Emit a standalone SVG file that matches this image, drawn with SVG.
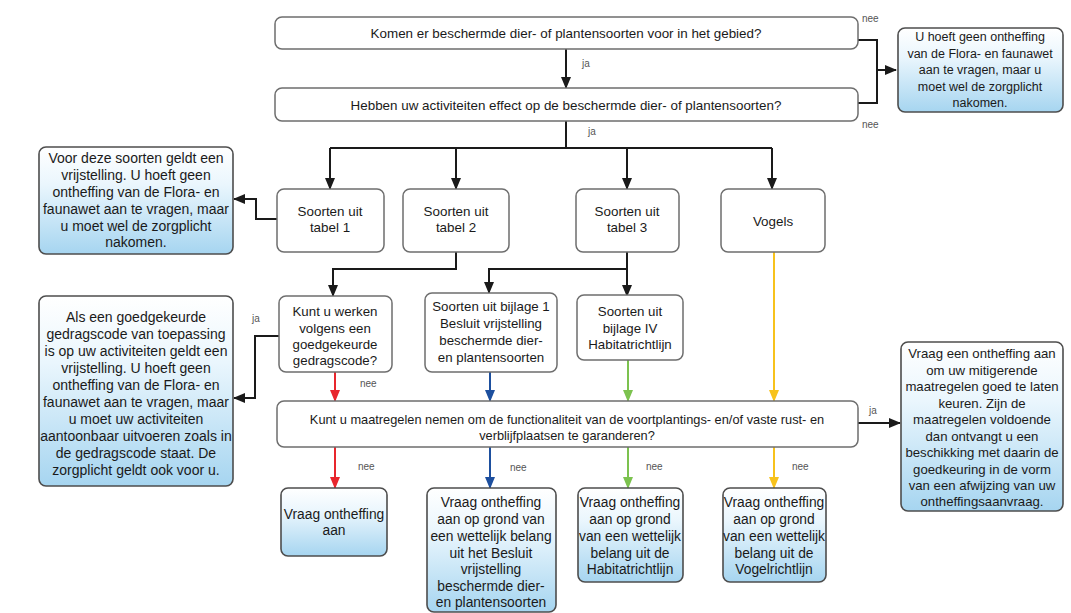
<svg xmlns="http://www.w3.org/2000/svg" width="1071" height="613" viewBox="0 0 1071 613">
<defs>
<style>
text{font-family:"Liberation Sans",Arial,sans-serif;font-size:12.5px;fill:#1a1a1a;text-anchor:middle}
.s134 text{font-size:13.4px}
.s133 text{font-size:13.3px}
.s128 text{font-size:12.8px}
.s132 text{font-size:13.2px}
.s14 text{font-size:14px}
.s138 text{font-size:13.8px}
.q{fill:#fff;stroke:#6e6e6e;stroke-width:1.5}
.b{fill:url(#bg);stroke:#4d4d4d;stroke-width:1.6}
.c{fill:none;stroke:#1a1a1a;stroke-width:2}
#connectors text.lbl{font-size:10px;fill:#555;text-anchor:start}
.red{fill:none;stroke:#e8262d;stroke-width:2}
.blu{fill:none;stroke:#1d4f9e;stroke-width:2}
.grn{fill:none;stroke:#7cc24f;stroke-width:2}
.yel{fill:none;stroke:#f7c21c;stroke-width:2}
</style>
<linearGradient id="bg" x1="0" y1="0" x2="0" y2="1">
<stop offset="0" stop-color="#ffffff"/>
<stop offset="0.35" stop-color="#eaf6fd"/>
<stop offset="1" stop-color="#a6d5f0"/>
</linearGradient>
<marker id="ak" markerUnits="userSpaceOnUse" markerWidth="12" markerHeight="10" refX="11" refY="5" orient="auto"><path d="M0,0 L12,5 L0,10 z" fill="#1a1a1a"/></marker>
<marker id="ar" markerUnits="userSpaceOnUse" markerWidth="12" markerHeight="10" refX="11" refY="5" orient="auto"><path d="M0,0 L12,5 L0,10 z" fill="#e8262d"/></marker>
<marker id="ab" markerUnits="userSpaceOnUse" markerWidth="12" markerHeight="10" refX="11" refY="5" orient="auto"><path d="M0,0 L12,5 L0,10 z" fill="#1d4f9e"/></marker>
<marker id="ag" markerUnits="userSpaceOnUse" markerWidth="12" markerHeight="10" refX="11" refY="5" orient="auto"><path d="M0,0 L12,5 L0,10 z" fill="#7cc24f"/></marker>
<marker id="ay" markerUnits="userSpaceOnUse" markerWidth="12" markerHeight="10" refX="11" refY="5" orient="auto"><path d="M0,0 L12,5 L0,10 z" fill="#f7c21c"/></marker>
</defs>
<rect width="1071" height="613" fill="#fff"/>

<g id="connectors">
<path class="c" d="M566,49 V88" marker-end="url(#ak)"/>
<path class="c" d="M858,40 H877 V103 H858"/>
<path class="c" d="M877,70 H896" marker-end="url(#ak)"/>
<path class="c" d="M566,121 V148"/>
<path class="c" d="M330,148 H772"/>
<path class="c" d="M330,148 V189" marker-end="url(#ak)"/>
<path class="c" d="M456,148 V189" marker-end="url(#ak)"/>
<path class="c" d="M627,148 V189" marker-end="url(#ak)"/>
<path class="c" d="M772,148 V189" marker-end="url(#ak)"/>
<path class="c" d="M277,219 H256 V199 H234" marker-end="url(#ak)"/>
<path class="c" d="M456,252 V269 H333 V296" marker-end="url(#ak)"/>
<path class="c" d="M627,252 V296" marker-end="url(#ak)"/>
<path class="c" d="M627,269 H489 V293" marker-end="url(#ak)"/>
<path class="c" d="M279,336 H255 V398 H234" marker-end="url(#ak)"/>
<path class="red" d="M335,372 V401" marker-end="url(#ar)"/>
<path class="blu" d="M490,372 V401" marker-end="url(#ab)"/>
<path class="grn" d="M628,360 V401" marker-end="url(#ag)"/>
<path class="yel" d="M774,252 V401" marker-end="url(#ay)"/>
<path class="c" d="M858,423 H900" marker-end="url(#ak)"/>
<path class="red" d="M335,447 V488" marker-end="url(#ar)"/>
<path class="blu" d="M490,447 V488" marker-end="url(#ab)"/>
<path class="grn" d="M628,447 V488" marker-end="url(#ag)"/>
<path class="yel" d="M774,447 V488" marker-end="url(#ay)"/>
<text class="lbl" x="582" y="67">ja</text>
<text class="lbl" x="588" y="135">ja</text>
<text class="lbl" x="862" y="22">nee</text>
<text class="lbl" x="862" y="128">nee</text>
<text class="lbl" x="252" y="322">ja</text>
<text class="lbl" x="869" y="414">ja</text>
<text class="lbl" x="360" y="387">nee</text>
<text class="lbl" x="358" y="470">nee</text>
<text class="lbl" x="510" y="471">nee</text>
<text class="lbl" x="646" y="470">nee</text>
<text class="lbl" x="792" y="470">nee</text>
</g>

<g id="q1" class="s134"><rect class="q" x="275" y="17" width="583" height="32" rx="7"/><text x="566" y="37.5">Komen er beschermde dier- of plantensoorten voor in het gebied?</text></g>
<g id="q2" class="s134"><rect class="q" x="275" y="88" width="583" height="33" rx="7"/><text x="566" y="109.5">Hebben uw activiteiten effect op de beschermde dier- of plantensoorten?</text></g>
<g id="r1"><rect class="b" x="898" y="28" width="165" height="84" rx="7"/>
<text x="980" y="41">U hoeft geen ontheffing</text><text x="980" y="57.5">van de Flora- en faunawet</text><text x="980" y="74">aan te vragen, maar u</text><text x="980" y="90.5">moet wel de zorgplicht</text><text x="980" y="107">nakomen.</text></g>

<g id="t1" class="s134"><rect class="q" x="277" y="189" width="107" height="63" rx="7"/><text x="330" y="216">Soorten uit</text><text x="330" y="232">tabel 1</text></g>
<g id="t2" class="s134"><rect class="q" x="403" y="189" width="106" height="63" rx="7"/><text x="456" y="216">Soorten uit</text><text x="456" y="232">tabel 2</text></g>
<g id="t3" class="s134"><rect class="q" x="576" y="189" width="103" height="63" rx="7"/><text x="627" y="216">Soorten uit</text><text x="627" y="232">tabel 3</text></g>
<g id="t4" class="s134"><rect class="q" x="721" y="189" width="104" height="63" rx="7"/><text x="773" y="226">Vogels</text></g>

<g id="l1" class="s14"><rect class="b" x="39" y="147" width="194" height="107" rx="7"/>
<text x="136" y="163">Voor deze soorten geldt een</text><text x="136" y="180">vrijstelling. U hoeft geen</text><text x="136" y="197">ontheffing van de Flora- en</text><text x="136" y="214">faunawet aan te vragen, maar</text><text x="136" y="231">u moet wel de zorgplicht</text><text x="136" y="247">nakomen.</text></g>

<g id="k1" class="s133"><rect class="q" x="279" y="296" width="113" height="76" rx="7"/>
<text x="335" y="316">Kunt u werken</text><text x="335" y="332.5">volgens een</text><text x="335" y="349">goedgekeurde</text><text x="335" y="365">gedragscode?</text></g>
<g id="k2" class="s133"><rect class="q" x="425" y="293" width="132" height="79" rx="7"/>
<text x="491" y="311">Soorten uit bijlage 1</text><text x="491" y="328">Besluit vrijstelling</text><text x="491" y="345">beschermde dier-</text><text x="491" y="362">en plantensoorten</text></g>
<g id="k3" class="s133"><rect class="q" x="577" y="295" width="106" height="65" rx="7"/>
<text x="630" y="316">Soorten uit</text><text x="630" y="332.5">bijlage IV</text><text x="630" y="349">Habitatrichtlijn</text></g>

<g id="l2" class="s14"><rect class="b" x="39" y="296" width="194" height="190" rx="7"/>
<text x="136" y="322">Als een goedgekeurde</text><text x="136" y="339">gedragscode van toepassing</text><text x="136" y="356">is op uw activiteiten geldt een</text><text x="136" y="373">vrijstelling. U hoeft geen</text><text x="136" y="390">ontheffing van de Flora- en</text><text x="136" y="407">faunawet aan te vragen, maar</text><text x="136" y="424">u moet uw activiteiten</text><text x="136" y="441">aantoonbaar uitvoeren zoals in</text><text x="136" y="458">de gedragscode staat. De</text><text x="136" y="475">zorgplicht geldt ook voor u.</text></g>

<g id="q3" class="s128"><rect class="q" x="277" y="401" width="581" height="46" rx="7"/>
<text x="567" y="424">Kunt u maatregelen nemen om de functionaliteit van de voortplantings- en/of vaste rust- en</text><text x="567" y="440">verblijfplaatsen te garanderen?</text></g>

<g id="r2" class="s132"><rect class="b" x="901" y="342" width="162" height="169" rx="7"/>
<text x="982" y="358">Vraag een ontheffing aan</text><text x="982" y="374.5">om uw mitigerende</text><text x="982" y="391">maatregelen goed te laten</text><text x="982" y="407.5">keuren. Zijn de</text><text x="982" y="424">maatregelen voldoende</text><text x="982" y="440.5">dan ontvangt u een</text><text x="982" y="457">beschikking met daarin de</text><text x="982" y="473.5">goedkeuring in de vorm</text><text x="982" y="490">van een afwijzing van uw</text><text x="982" y="506">ontheffingsaanvraag.</text></g>

<g id="e1" class="s138"><rect class="b" x="281" y="488" width="106" height="68" rx="7"/><text x="334" y="519">Vraag ontheffing</text><text x="334" y="535">aan</text></g>
<g id="e2" class="s138"><rect class="b" x="427" y="488" width="129" height="124" rx="7"/>
<text x="491" y="507">Vraag ontheffing</text><text x="491" y="524">aan op grond van</text><text x="491" y="541">een wettelijk belang</text><text x="491" y="557.5">uit het Besluit</text><text x="491" y="574">vrijstelling</text><text x="491" y="590.5">beschermde dier-</text><text x="491" y="607">en plantensoorten</text></g>
<g id="e3" class="s138"><rect class="b" x="578" y="488" width="105" height="94" rx="7"/>
<text x="630" y="507">Vraag ontheffing</text><text x="630" y="524">aan op grond</text><text x="630" y="541">van een wettelijk</text><text x="630" y="557.5">belang uit de</text><text x="630" y="574">Habitatrichtlijn</text></g>
<g id="e4" class="s138"><rect class="b" x="723" y="488" width="103" height="94" rx="7"/>
<text x="774" y="507">Vraag ontheffing</text><text x="774" y="524">aan op grond</text><text x="774" y="541">van een wettelijk</text><text x="774" y="557.5">belang uit de</text><text x="774" y="574">Vogelrichtlijn</text></g>
</svg>
